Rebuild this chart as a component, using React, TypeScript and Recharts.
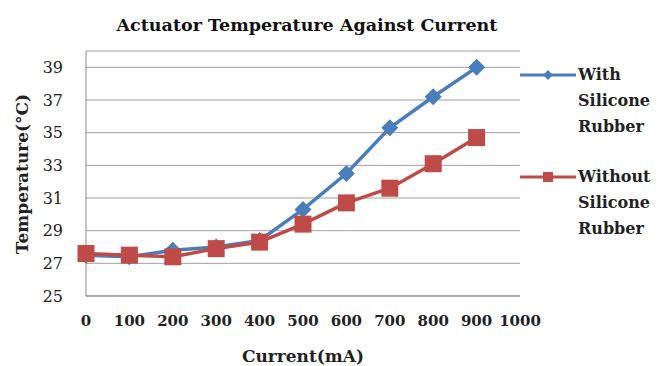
import React from "react";
import { LineChart, Line, XAxis, YAxis, CartesianGrid } from "recharts";

const currents = [0, 100, 200, 300, 400, 500, 600, 700, 800, 900];
const withRubber = [27.5, 27.4, 27.8, 28.0, 28.4, 30.3, 32.5, 35.3, 37.2, 39.0];
const withoutRubber = [27.6, 27.5, 27.4, 27.9, 28.3, 29.4, 30.7, 31.6, 33.1, 34.7];
const xTicks = [0, 100, 200, 300, 400, 500, 600, 700, 800, 900, 1000];
const yTicks = [25, 27, 29, 31, 33, 35, 37, 39];
const seriesNames = ["With Silicone Rubber", "Without Silicone Rubber"];
const legendLines = [["With", "Silicone", "Rubber"], ["Without", "Silicone", "Rubber"]];

const data = currents.map((c, i) => ({ current: c, with: withRubber[i], without: withoutRubber[i] }));

const BLUE = "#4A7EBB";
const RED = "#BE4B48";
const FONT = "'DejaVu Serif', 'Liberation Serif', serif";

const Diamond = (props: any) => {
  const { cx, cy } = props;
  if (cx == null || cy == null) return null;
  const r = 8.5;
  return <polygon points={`${cx},${cy - r} ${cx + r},${cy} ${cx},${cy + r} ${cx - r},${cy}`} fill={BLUE} />;
};
const Square = (props: any) => {
  const { cx, cy } = props;
  if (cx == null || cy == null) return null;
  const s = 8.5;
  return <rect x={cx - s} y={cy - s} width={2 * s} height={2 * s} fill={RED} />;
};

const LegendBlock = () => {
  const items = [
    { color: BLUE, marker: "diamond", lines: legendLines[0] },
    { color: RED, marker: "square", lines: legendLines[1] },
  ];
  return (
    <div
      style={{
        position: "absolute",
        left: 518,
        top: 63,
        width: 144,
        fontFamily: FONT,
        fontSize: 16,
        fontWeight: "bold",
        color: "#222",
      }}
    >
      {items.map((it, k) => (
        <div key={k} style={{ display: "flex", alignItems: "flex-start", marginBottom: k === 0 ? 25 : 0 }}>
          <svg width={60} height={24} style={{ flex: "none" }}>
            <line x1={2} y1={12} x2={58} y2={12} stroke={it.color} strokeWidth={3} />
            {it.marker === "diamond" ? (
              <polygon points="30,7 35,12 30,17 25,12" fill={it.color} />
            ) : (
              <rect x={25} y={7} width={10} height={10} fill={it.color} />
            )}
          </svg>
          <div style={{ lineHeight: "26px", marginTop: -1 }}>
            {it.lines.map((l, j) => (
              <div key={j}>{l}</div>
            ))}
          </div>
        </div>
      ))}
    </div>
  );
};

export default function App() {
  return (
    <div style={{ position: "absolute", left: 0, top: 0, width: 662, height: 366, background: "#fff" }}>
      <LineChart width={662} height={366} data={data} margin={{ top: 51, right: 142, bottom: 0, left: 0 }}>
        <text x={307} y={31} textAnchor="middle" fontFamily={FONT} fontWeight="bold" fontSize={17.5} fill="#111">
          Actuator Temperature Against Current
        </text>
        <text
          x={28}
          y={174}
          transform="rotate(-90 28 174)"
          textAnchor="middle"
          fontFamily={FONT}
          fontWeight="bold"
          fontSize={17}
          fill="#222"
        >
          Temperature(°C)
        </text>
        <CartesianGrid horizontal={true} vertical={false} stroke="#a0a0a0" strokeWidth={1} />
        <XAxis
          dataKey="current"
          type="number"
          domain={[0, 1000]}
          ticks={xTicks}
          interval={0}
          height={70}
          stroke="#888"
          tickLine={false}
          tick={{ fontFamily: FONT, fontSize: 15, fontWeight: "bold", fill: "#222" }}
          tickMargin={13}
          label={{ value: "Current(mA)", position: "insideBottom", offset: 4, fontFamily: FONT, fontSize: 17, fontWeight: "bold", fill: "#222" }}
        />
        <YAxis
          type="number"
          domain={[25, 40]}
          ticks={yTicks}
          interval={0}
          width={86}
          stroke="#888"
          tickLine={false}
          tick={{ fontFamily: FONT, fontSize: 16, fill: "#222" }}
          tickMargin={17}
        />
        <Line
          name={seriesNames[0]}
          dataKey="with"
          stroke={BLUE}
          strokeWidth={3.5}
          dot={<Diamond />}
          activeDot={false}
          isAnimationActive={false}
        />
        <Line
          name={seriesNames[1]}
          dataKey="without"
          stroke={RED}
          strokeWidth={3.5}
          dot={<Square />}
          activeDot={false}
          isAnimationActive={false}
        />
      </LineChart>
      <LegendBlock />
    </div>
  );
}
